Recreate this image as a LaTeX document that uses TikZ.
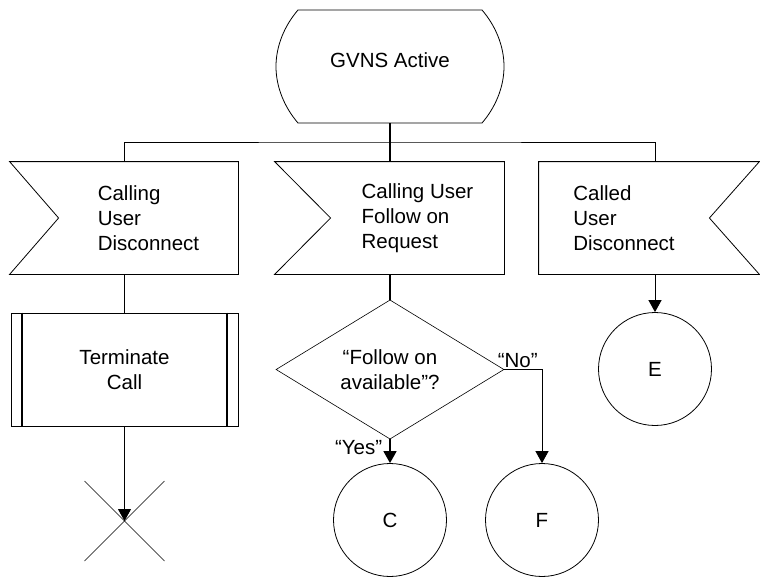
\documentclass[tikz,border=0pt]{standalone}
\usepackage{fontspec}
\setmainfont{Liberation Sans}
\usetikzlibrary{calc,positioning,shapes.geometric,arrows.meta}

\begin{document}
\begin{tikzpicture}[x=1pt,y=-1pt,inner sep=0pt,line width=0.8pt,
  txt/.style={font=\fontsize{20.5}{25}\selectfont,align=left},
  box/.style={txt,minimum height=112pt},
  conn/.style={line width=1pt},
  flow/.style={conn,-{Triangle[length=12pt,width=13pt]}},
  con/.style={circle,draw,txt,minimum size=113pt}]
\useasboundingbox (0,0) rectangle (760,579);
\node[txt,minimum width=228pt,minimum height=113pt,text height=15pt,text depth=14pt] (act) at (390,66.5) {GVNS Active};
\draw (298,10) -- (482,10) .. controls (495.5,25.7) and (504,45.8) .. (504,66.5) .. controls (504,87.2) and (495.5,107.3) .. (482,123) -- (298,123) .. controls (284.5,107.3) and (276,87.2) .. (276,66.5) .. controls (276,45.8) and (284.5,25.7) .. (298,10) -- cycle;
\node[box,minimum width=179pt] (cud) at (148.5,218) {Calling\\User\\Disconnect};
\draw (cud.north east) -- (cud.south east) -- ([xshift=-49pt]cud.south west) -- (cud.west) -- ([xshift=-49pt]cud.north west) -- cycle;
\node[box,minimum width=173pt] (cfr) at (417.5,218) {Calling User\\Follow on\\Request};
\draw (cfr.north east) -- (cfr.south east) -- ([xshift=-56pt]cfr.south west) -- (cfr.west) -- ([xshift=-56pt]cfr.north west) -- cycle;
\node[box,minimum width=170pt] (cdu) at (624,218) {Called\\User\\Disconnect};
\draw (cdu.north west) -- (cdu.south west) -- ([xshift=50pt]cdu.south east) -- (cdu.east) -- ([xshift=50pt]cdu.north east) -- cycle;
\node[txt,align=center,draw,minimum width=227pt,minimum height=113pt] (term) at (124.5,369.5) {Terminate\\Call};
\draw[line width=2.4pt] ([xshift=11.5pt]term.north west) -- ([xshift=11.5pt]term.south west);
\draw[line width=2.4pt] ([xshift=-11.5pt]term.north east) -- ([xshift=-11.5pt]term.south east);
\coordinate (stop) at (124.5,521);
\draw[line width=0.6pt] ([xshift=-40pt,yshift=40pt]stop) -- ([xshift=40pt,yshift=-40pt]stop);
\draw[line width=0.6pt] ([xshift=-40pt,yshift=-40pt]stop) -- ([xshift=40pt,yshift=40pt]stop);
\node[diamond,draw,txt,align=center,minimum width=228pt,minimum height=133pt,line width=0.6pt] (fq) at (390,369.5) {“Follow on\\available”?};
\node[con] (cc) at (390,520) {C};
\node[con] (cf) at (542,520) {F};
\node[con] (ce) at (655,369) {E};
\coordinate (bus) at (390,142);
\draw[conn,line width=1.6pt] (act) -- (bus);
\draw[conn] (cud.north -| term) |- (bus) -| (cdu.north -| ce);
\draw[conn,line width=1.6pt] (bus) -- (cfr.north -| fq);
\draw[conn] (cud.south -| term) -- (term);
\draw[flow] (term) -- (stop);
\draw[conn,line width=1.6pt] (cfr.south -| fq) -- (fq);
\draw[flow] (cdu.south -| ce) -- (ce);
\draw[flow,line width=1.6pt] (fq) -- node[txt,pos=0,anchor=north east,xshift=-7pt] (yes) {“Yes”} (cc);
\draw[flow] (fq.east) -| node[txt,pos=0,anchor=south west,xshift=-7pt,yshift=1pt] (no) {“No”} (cf);
\end{tikzpicture}
\end{document}
